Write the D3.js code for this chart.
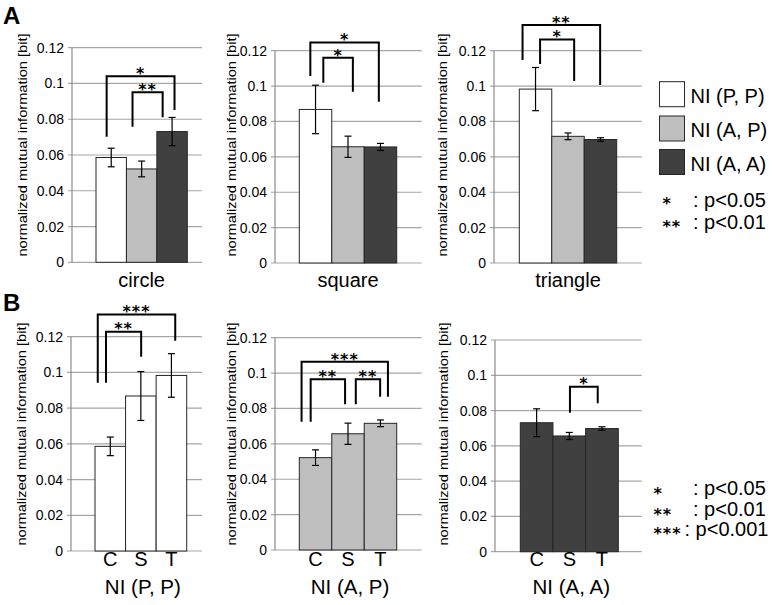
<!DOCTYPE html>
<html><head><meta charset="utf-8">
<script src="https://cdn.jsdelivr.net/npm/d3@7"></script>
<style>body{margin:0;background:#fff}svg{display:block}text{font-family:"Liberation Sans",Arial,sans-serif;fill:#000}text.star{font-family:"DejaVu Sans",sans-serif;font-weight:bold;letter-spacing:1px}</style>
</head><body><svg id="c" width="780" height="605"></svg>
<script>
// ---------- data ----------
const shapes = ["circle", "square", "triangle"];
const shapeCodes = ["C", "S", "T"];
const conditions = ["NI (P, P)", "NI (A, P)", "NI (A, A)"];
const meanPP = [0.0586, 0.0868, 0.0983];
const errPP  = [0.0052, 0.0137, 0.0122];
const meanAP = [0.0522, 0.0657, 0.0716];
const errAP  = [0.0044, 0.0060, 0.0019];
const meanAA = [0.0731, 0.0656, 0.0698];
const errAA  = [0.0079, 0.0020, 0.0010];
const yTicks = [0, 0.02, 0.04, 0.06, 0.08, 0.1, 0.12];
const tickLabels = ["0", "0.02", "0.04", "0.06", "0.08", "0.1", "0.12"];
const yTitle = "normalized mutual information [bit]";
const sigLegendA = [{stars: "*", text: ": p<0.05"}, {stars: "**", text: ": p<0.01"}];
const sigLegendB = [{stars: "*", text: ": p<0.05"}, {stars: "**", text: ": p<0.01"}, {stars: "***", text: ": p<0.001"}];
// significance brackets (bar indices, leg offsets in bar widths, heights in data units)
const bracketsA = [
  [{from: 0, to: 2, dFrom: -0.15, dTo: 0.08, top: 0.104, endFrom: 0.0702, endTo: 0.0852, label: "*"},
   {from: 1, to: 2, dFrom: -0.30, dTo: -0.31, top: 0.0951, endFrom: 0.0758, endTo: 0.0811, label: "**"}],
  [{from: 0, to: 2, dFrom: -0.16, dTo: -0.05, top: 0.1247, endFrom: 0.1057, endTo: 0.0912, label: "*"},
   {from: 0, to: 1, dFrom: 0.24, dTo: 0.15, top: 0.116, endFrom: 0.1019, endTo: 0.0968, label: "*"}],
  [{from: 0, to: 2, dFrom: -0.40, dTo: -0.01, top: 0.1345, endFrom: 0.1147, endTo: 0.1006, label: "**"},
   {from: 0, to: 1, dFrom: 0.14, dTo: 0.19, top: 0.1264, endFrom: 0.1125, endTo: 0.1029, label: "*"}]
];
const bracketsB = [
  [{from: 0, to: 2, dFrom: -0.41, dTo: 0.125, top: 0.1325, endFrom: 0.0942, endTo: 0.1178, label: "***"},
   {from: 0, to: 1, dFrom: -0.14, dTo: 0.01, top: 0.1228, endFrom: 0.0942, endTo: 0.1088, label: "**"}],
  [{from: 0, to: 2, dFrom: -0.43, dTo: 0.23, top: 0.1064, endFrom: 0.0725, endTo: 0.0866, label: "***"},
   {from: 0, to: 1, dFrom: -0.15, dTo: -0.09, top: 0.0965, endFrom: 0.0725, endTo: 0.0824, label: "**"},
   {from: 1, to: 2, dFrom: 0.24, dTo: -0.01, top: 0.0965, endFrom: 0.0824, endTo: 0.0866, label: "**"}],
  [{from: 1, to: 2, dFrom: 0.02, dTo: -0.13, top: 0.0935, endFrom: 0.0788, endTo: 0.0841, label: "*"}]
];

// ---------- layout / style ----------
const fills = ["#ffffff", "#bfbfbf", "#404040"];
const layoutA = [
  {ax: 72, r: 202, bl: 96, br: 187.3, yt: 47.7, yb: 262.3, tx: 22},
  {ax: 275, r: 421.7, bl: 299.3, br: 396.7, yt: 50.7, yb: 263, tx: 231.7},
  {ax: 494, r: 641.7, bl: 519.3, br: 616.7, yt: 50.7, yb: 263, tx: 442.7}
];
const layoutB = [
  {ax: 71, r: 202, bl: 95, br: 186.7, yt: 336.7, yb: 551, tx: 21},
  {ax: 275, r: 421.7, bl: 299.3, br: 396.7, yt: 337.7, yb: 550, tx: 231.7},
  {ax: 495, r: 641.7, bl: 520.3, br: 618.3, yt: 340, yb: 551.7, tx: 443}
];
const starSize = 16;
const starLift = 0.59 * starSize; // baseline-to-glyph-centre distance

const svg = d3.select("#c");
svg.append("rect").attr("width", 780).attr("height", 605).attr("fill", "#fff");

const allMeans = [meanPP, meanAP, meanAA];
const allErrs = [errPP, errAP, errAA];

function drawChart(L, cats, vals, errs, fillArr, brackets, titleCY) {
  const g = svg.append("g");
  const y = d3.scaleLinear().domain([0, 0.12]).range([L.yb, L.yt]);
  const x = d3.scaleBand().domain(cats).range([L.bl, L.br]).padding(0);
  // gridlines
  g.selectAll("line.grid").data(yTicks).join("line")
    .attr("x1", L.ax - 4).attr("x2", L.r)
    .attr("y1", d => y(d)).attr("y2", d => y(d))
    .attr("stroke", "#a6a6a6").attr("stroke-width", 1.2);
  // vertical axis line
  g.append("line").attr("x1", L.ax).attr("x2", L.ax)
    .attr("y1", y(0.12)).attr("y2", y(0))
    .attr("stroke", "#8c8c8c").attr("stroke-width", 1.2);
  // tick labels via d3 axis
  const axis = d3.axisLeft(y).tickValues(yTicks)
    .tickFormat((d, i) => tickLabels[i]).tickSize(0).tickPadding(8);
  const ag = g.append("g").attr("transform", `translate(${L.ax},0)`).call(axis);
  ag.select(".domain").remove();
  ag.selectAll("text").attr("font-size", 14).attr("fill", "#000")
    .attr("font-family", '"Liberation Sans", Arial, sans-serif');
  // y title
  g.append("text")
    .attr("transform", `translate(${L.tx},${titleCY}) rotate(-90)`)
    .attr("text-anchor", "middle").attr("dy", "0.35em")
    .attr("font-size", 13.5).attr("textLength", 223).attr("lengthAdjust", "spacingAndGlyphs")
    .text(yTitle);
  // bars
  const data = cats.map((c, i) => ({c, v: vals[i], e: errs[i], f: fillArr[i]}));
  g.selectAll("rect.bar").data(data).join("rect")
    .attr("x", d => x(d.c)).attr("width", x.bandwidth())
    .attr("y", d => y(d.v)).attr("height", d => y(0) - y(d.v))
    .attr("fill", d => d.f).attr("stroke", "#262626").attr("stroke-width", 1);
  // error bars
  const cx = d => x(d.c) + x.bandwidth() / 2;
  const eg = g.selectAll("g.err").data(data).join("g");
  eg.append("line").attr("x1", cx).attr("x2", cx)
    .attr("y1", d => y(d.v - d.e)).attr("y2", d => y(d.v + d.e));
  eg.append("line").attr("x1", d => cx(d) - 3.5).attr("x2", d => cx(d) + 3.5)
    .attr("y1", d => y(d.v + d.e)).attr("y2", d => y(d.v + d.e));
  eg.append("line").attr("x1", d => cx(d) - 3.5).attr("x2", d => cx(d) + 3.5)
    .attr("y1", d => y(d.v - d.e)).attr("y2", d => y(d.v - d.e));
  eg.selectAll("line").attr("stroke", "#000").attr("stroke-width", 1.2);
  // brackets
  const bw = x.bandwidth();
  brackets.forEach(b => {
    const xl = x(cats[b.from]) + bw / 2 + b.dFrom * bw;
    const xr = x(cats[b.to]) + bw / 2 + b.dTo * bw;
    g.append("path")
      .attr("d", `M${xl},${y(b.endFrom)}V${y(b.top)}H${xr}V${y(b.endTo)}`)
      .attr("fill", "none").attr("stroke", "#000").attr("stroke-width", 2);
    g.append("text").attr("class", "star").attr("x", (xl + xr) / 2).attr("y", y(b.top) - 6.7 + starLift)
      .attr("text-anchor", "middle").attr("font-size", starSize).text(b.label);
  });
  return {g, x, y};
}

// Panel A: one chart per shape, bars = conditions
shapes.forEach((s, k) => {
  const L = layoutA[k];
  const vals = allMeans.map(m => m[k]);
  const errs = allErrs.map(e => e[k]);
  const {g} = drawChart(L, conditions, vals, errs, fills, bracketsA[k], 145);
  g.append("text").attr("x", (L.bl + L.br) / 2).attr("y", 287)
    .attr("text-anchor", "middle").attr("font-size", 20).text(s);
});

// Panel B: one chart per condition, bars = shapes
conditions.forEach((c, k) => {
  const L = layoutB[k];
  const {g, x} = drawChart(L, shapeCodes, allMeans[k], allErrs[k], shapeCodes.map(() => fills[k]), bracketsB[k], 434);
  g.selectAll("text.cat").data(shapeCodes).join("text").attr("class", "cat")
    .attr("x", d => x(d) + x.bandwidth() / 2).attr("y", 566)
    .attr("text-anchor", "middle").attr("font-size", 20).text(d => d);
  g.append("text").attr("x", (L.bl + L.br) / 2 + 2).attr("y", 594)
    .attr("text-anchor", "middle").attr("font-size", 20.5).text(c);
});

// panel letters
svg.append("text").attr("x", 3).attr("y", 23.5).attr("font-size", 24).attr("font-weight", "bold").text("A");
svg.append("text").attr("x", 3).attr("y", 311).attr("font-size", 24).attr("font-weight", "bold").text("B");

// legend A: conditions
const leg = svg.append("g");
conditions.forEach((c, i) => {
  const yy = [81.7, 116, 149.5][i];
  leg.append("rect").attr("x", 659.5).attr("y", yy).attr("width", 25).attr("height", 25)
    .attr("fill", fills[i]).attr("stroke", "#262626").attr("stroke-width", 1);
  leg.append("text").attr("x", 690.5).attr("y", yy + 21).attr("font-size", 20).text(c);
});
// significance legends
function sigLegend(items, starX, textX, centers, baselines) {
  items.forEach((it, i) => {
    svg.append("text").attr("class", "star").attr("x", starX).attr("y", centers[i] + starLift)
      .attr("font-size", starSize).text(it.stars);
    svg.append("text").attr("x", textX[i]).attr("y", baselines[i]).attr("font-size", 20).text(it.text);
  });
}
sigLegend(sigLegendA, 662.5, [693, 693], [200, 222.7], [206.7, 229]);
sigLegend(sigLegendB, 653.5, [693, 693, 684.5], [489.3, 510.7, 530], [495, 515.5, 536]);
</script></body></html>
